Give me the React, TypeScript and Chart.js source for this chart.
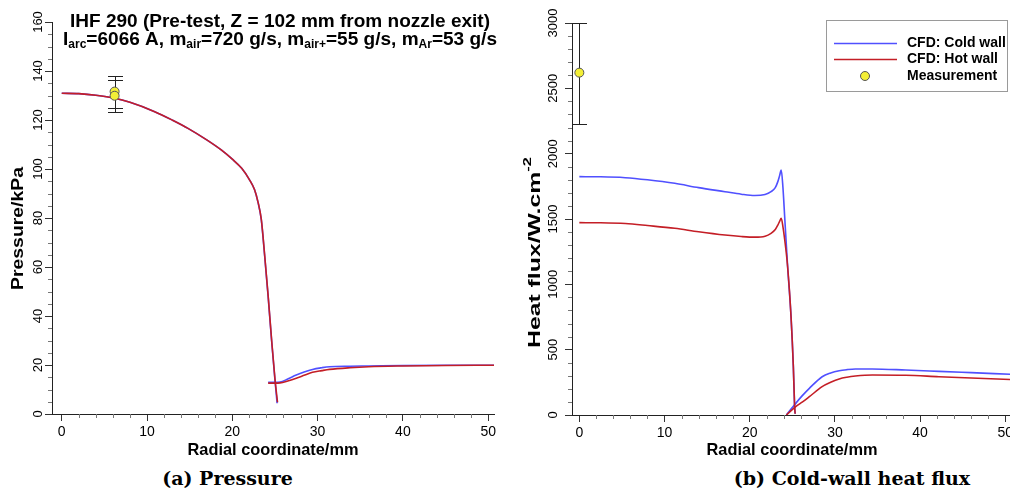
import React, { useEffect, useRef } from "react";
import { Chart, registerables } from "chart.js";
Chart.register(...registerables);

// ---------------- (a) Pressure data ----------------
const pressColdMainX = [0, 2, 4, 6.2, 8, 10.9, 13, 14.8, 17, 18.7, 20, 21.1, 22, 22.6, 23.0, 23.4, 23.8, 24.2, 24.6, 25.0, 25.25];
const pressColdMainY = [130.9, 130.75, 130.1, 128.9, 127.2, 123.4, 119.9, 116.6, 111.9, 107.8, 104.0, 100.3, 95.7, 91.6, 86.6, 79.2, 64.2, 47.9, 30.2, 13.9, 4.4];
const pressHotMainX = [0, 2, 4, 6.2, 8, 10.9, 13, 14.8, 17, 18.7, 20, 21.1, 22, 22.6, 23.0, 23.4, 23.8, 24.2, 24.6, 25.0, 25.3];
const pressHotMainY = [130.9, 130.75, 130.1, 128.9, 127.2, 123.4, 119.9, 116.6, 111.9, 107.8, 104.0, 100.3, 95.7, 91.6, 86.7, 79.4, 64.6, 48.3, 30.6, 14.3, 4.8];
const pressOuterX = [24.2, 25.0, 25.6, 26.5, 27.5, 28.5, 29.4, 30.5, 31.4, 33.8, 36, 40, 45, 50.7];
const pressColdOuterY = [12.9, 12.9, 13.0, 14.3, 15.9, 17.2, 18.2, 18.9, 19.3, 19.5, 19.6, 19.8, 19.9, 19.9];
const pressHotOuterY = [12.6, 12.6, 12.7, 13.5, 14.6, 15.9, 17.0, 17.7, 18.2, 18.9, 19.3, 19.6, 19.8, 19.9];
const pressMeasX = [6.2, 6.2];
const pressMeasY = [131.6, 129.9];
const pressMeasLow = [125.1, 123.4];
const pressMeasHigh = [138.1, 136.3];

// ---------------- (b) Heat flux data ----------------
const fluxMainX = [0, 2.5, 5.4, 8, 11.2, 14, 17.1, 19, 20.6, 21.8, 22.5, 23.0, 23.3, 23.5, 23.7, 23.9, 24.1, 24.45, 24.85, 25.12, 25.27, 25.33];
const fluxColdMainY = [1824, 1823, 1816, 1800, 1773, 1740, 1709, 1690, 1680, 1688, 1709, 1740, 1786, 1830, 1875, 1740, 1520, 1135, 752, 370, 64, 10];
const fluxHotMainY = [1472, 1471, 1465, 1450, 1429, 1402, 1377, 1366, 1361, 1368, 1390, 1420, 1454, 1480, 1505, 1440, 1345, 1135, 752, 370, 64, 10];
const fluxOuterX = [24.3, 25.4, 26.2, 27.0, 28.5, 29.5, 30.5, 31.4, 32.4, 34.4, 38.3, 42.2, 46.0, 50.55];
const fluxColdOuterY = [0, 89, 150, 204, 293, 322, 339, 347, 352, 352, 344, 334, 324, 312];
const fluxHotOuterY = [0, 64, 100, 140, 217, 250, 276, 289, 298, 306, 304, 293, 283, 272];
const fluxMeasX = [0];
const fluxMeasY = [2620];
const fluxMeasLow = [2230];
const fluxMeasHigh = [3000];

// ---------------- ticks & texts ----------------
const xTicks = [0, 10, 20, 30, 40, 50];
const pressTicks = [0, 20, 40, 60, 80, 100, 120, 140, 160];
const fluxTicks = [0, 500, 1000, 1500, 2000, 2500, 3000];
const legendLabels = ["CFD: Cold wall", "CFD: Hot wall", "Measurement"];
const titleLine1 = "IHF 290 (Pre-test, Z = 102 mm from nozzle exit)";
const titleLine2Parts = ["I", "arc", "=6066 A, m", "air", "=720 g/s, m", "air+", "=55 g/s, m", "Ar", "=53 g/s"];
const xTitle = "Radial coordinate/mm";
const pressYTitle = "Pressure/kPa";
const fluxYTitleParts = ["Heat flux/W.cm", "-2"];
const captionA = "(a) Pressure";
const captionB = "(b) Cold-wall heat flux";

const COLD = "#5050ff";
const HOT = "#c41e26";
const MEAS = "#f3ef36";
const FAMILY = '"Liberation Sans", Arial, Helvetica, sans-serif';

const zip = (xs: number[], ys: number[]) => xs.map((x, i) => ({ x, y: ys[i] }));

type Seg = { t: string; size: number; dy?: number; bold?: boolean };

function drawSegs(ctx: any, segs: Seg[], x: number, y: number, rot: number, targetW: number | null, baseline: string) {
  ctx.save();
  let total = 0;
  const widths = segs.map((s) => {
    ctx.font = `${s.bold === false ? "" : "bold "}${s.size}px ${FAMILY}`;
    const w = ctx.measureText(s.t).width;
    total += w;
    return w;
  });
  const sx = targetW ? targetW / total : 1;
  ctx.translate(x, y);
  ctx.rotate(rot);
  ctx.scale(sx, 1);
  ctx.textBaseline = baseline;
  ctx.textAlign = "left";
  ctx.fillStyle = "#000";
  let cx = -total / 2;
  segs.forEach((s, i) => {
    ctx.font = `${s.bold === false ? "" : "bold "}${s.size}px ${FAMILY}`;
    ctx.fillText(s.t, cx, s.dy || 0);
    cx += widths[i];
  });
  ctx.restore();
}

function makeDecor(spec: any) {
  return {
    id: "decor",
    beforeDatasetsDraw(chart: any) {
      const ctx = chart.ctx;
      const xs = chart.scales.x;
      const ys = chart.scales.y;
      const e = spec.err;
      ctx.save();
      ctx.strokeStyle = "#222";
      ctx.lineWidth = 1;
      e.xs.forEach((xv: number, i: number) => {
        const px = Math.round(xs.getPixelForValue(xv)) + 0.5;
        const p1 = Math.round(ys.getPixelForValue(e.lows[i])) + 0.5;
        const p2 = Math.round(ys.getPixelForValue(e.highs[i])) + 0.5;
        ctx.beginPath();
        ctx.moveTo(px, p1);
        ctx.lineTo(px, p2);
        ctx.moveTo(px - 7.5, p1);
        ctx.lineTo(px + 7.5, p1);
        ctx.moveTo(px - 7.5, p2);
        ctx.lineTo(px + 7.5, p2);
        ctx.stroke();
      });
      ctx.restore();
    },
    afterDraw(chart: any) {
      const ctx = chart.ctx;
      const xs = chart.scales.x;
      const ys = chart.scales.y;
      const area = chart.chartArea;
      // minor ticks
      ctx.save();
      ctx.strokeStyle = "#777";
      ctx.lineWidth = 1;
      ctx.beginPath();
      const minorX = (step: number, major: number) => {
        for (let k = Math.ceil(xs.min / step); k * step <= xs.max + 1e-9; k++) {
          const v = k * step;
          const r = v / major;
          if (Math.abs(r - Math.round(r)) < 1e-6) continue;
          const px = Math.round(xs.getPixelForValue(v)) + 0.5;
          ctx.moveTo(px, area.bottom);
          ctx.lineTo(px, area.bottom + 4);
        }
      };
      const minorY = (step: number, major: number) => {
        for (let k = Math.ceil(ys.min / step); k * step <= ys.max + 1e-9; k++) {
          const v = k * step;
          const r = v / major;
          if (Math.abs(r - Math.round(r)) < 1e-6) continue;
          const py = Math.round(ys.getPixelForValue(v)) + 0.5;
          ctx.moveTo(area.left, py);
          ctx.lineTo(area.left - 4, py);
        }
      };
      minorX(2, 10);
      minorY(spec.yMinor, spec.yMajor);
      ctx.stroke();
      ctx.restore();
      // y tick labels (rotated)
      spec.yTicks.forEach((v: number) => {
        const py = ys.getPixelForValue(v);
        drawSegs(ctx, [{ t: String(v), size: 13, bold: false }], spec.yLabelX, py, -Math.PI / 2, null, "middle");
      });
      // axis titles
      drawSegs(ctx, [{ t: xTitle, size: 16.5 }], spec.xTitleX, 450, 0, 171, "middle");
      drawSegs(ctx, spec.yTitleSegs, spec.yTitleX, spec.yTitleY, -Math.PI / 2, spec.yTitleW, "middle");
      if (spec.title) {
        drawSegs(ctx, [{ t: titleLine1, size: 19 }], 280, 27.3, 0, 420, "alphabetic");
        const segs: Seg[] = titleLine2Parts.map((t, i) =>
          i % 2 === 0 ? { t, size: 19 } : { t, size: 12, dy: 3 }
        );
        drawSegs(ctx, segs, 280, 45, 0, 434, "alphabetic");
      }
      if (spec.legend) {
        ctx.save();
        ctx.strokeStyle = "#9a9a9a";
        ctx.lineWidth = 1;
        ctx.strokeRect(321.5, 20.5, 181, 71);
        ctx.lineWidth = 1.6;
        ctx.strokeStyle = COLD;
        ctx.beginPath();
        ctx.moveTo(329, 43.5);
        ctx.lineTo(392, 43.5);
        ctx.stroke();
        ctx.strokeStyle = HOT;
        ctx.beginPath();
        ctx.moveTo(329, 59.5);
        ctx.lineTo(392, 59.5);
        ctx.stroke();
        ctx.fillStyle = MEAS;
        ctx.strokeStyle = "#555";
        ctx.lineWidth = 1;
        ctx.beginPath();
        ctx.arc(360, 76, 4.5, 0, Math.PI * 2);
        ctx.fill();
        ctx.stroke();
        ctx.fillStyle = "#000";
        ctx.font = `bold 14px ${FAMILY}`;
        ctx.textBaseline = "middle";
        ctx.textAlign = "left";
        ctx.fillText(legendLabels[0], 402, 43.5);
        ctx.fillText(legendLabels[1], 402, 59.5);
        ctx.fillText(legendLabels[2], 402, 76);
        ctx.restore();
      }
    },
  };
}

function lineDs(label: string, data: any[], color: string, order: number) {
  return {
    label,
    data,
    borderColor: color,
    backgroundColor: color,
    borderWidth: 1.6,
    pointRadius: 0,
    fill: false,
    cubicInterpolationMode: "monotone",
    order,
  };
}

function measDs(data: any[]) {
  return {
    type: "scatter",
    label: legendLabels[2],
    data,
    pointRadius: 4.5,
    pointBackgroundColor: MEAS,
    pointBorderColor: "#555",
    pointBorderWidth: 1,
    showLine: false,
    order: 0,
  };
}

function axisCommon() {
  return {
    grid: { display: true, drawOnChartArea: false, drawTicks: true, tickLength: 7, tickColor: "#333", tickWidth: 1 },
    border: { display: true, color: "#222", width: 1 },
  };
}

function makeConfig(opts: any): any {
  return {
    type: "line",
    data: { datasets: opts.datasets },
    options: {
      responsive: false,
      maintainAspectRatio: false,
      animation: false,
      events: [],
      layout: { padding: opts.padding, autoPadding: false },
      plugins: { legend: { display: false }, tooltip: { enabled: false }, title: { display: false } },
      scales: {
        x: {
          type: "linear",
          min: opts.xMin,
          max: opts.xMax,
          ...axisCommon(),
          afterBuildTicks: (s: any) => {
            s.ticks = xTicks.map((v) => ({ value: v }));
          },
          afterFit: (s: any) => {
            s.height = opts.xHeight;
            s.paddingLeft = 0;
            s.paddingRight = 0;
          },
          ticks: { display: true, color: "#000", font: { family: FAMILY, size: 14 }, padding: 3, maxRotation: 0, minRotation: 0, autoSkip: false },
        },
        y: {
          type: "linear",
          min: opts.yMin,
          max: opts.yMax,
          ...axisCommon(),
          afterBuildTicks: (s: any) => {
            s.ticks = opts.yTicks.map((v: number) => ({ value: v }));
          },
          afterFit: (s: any) => {
            s.width = opts.yWidth;
            s.paddingTop = 0;
            s.paddingBottom = 0;
          },
          ticks: { display: false },
        },
      },
    },
    plugins: [makeDecor(opts.decor)],
  };
}

function leftConfig() {
  return makeConfig({
    datasets: [
      measDs(zip(pressMeasX, pressMeasY)),
      lineDs(legendLabels[1], zip(pressHotMainX, pressHotMainY), HOT, 1),
      lineDs(legendLabels[1], zip(pressOuterX, pressHotOuterY), HOT, 2),
      lineDs(legendLabels[0], zip(pressColdMainX, pressColdMainY), COLD, 3),
      lineDs(legendLabels[0], zip(pressOuterX, pressColdOuterY), COLD, 4),
    ],
    padding: { left: 0, top: 22, right: 11, bottom: 0 },
    xMin: -1.14,
    xMax: 50.68,
    yMin: 0,
    yMax: 160,
    yTicks: pressTicks,
    xHeight: 46,
    yWidth: 52,
    decor: {
      err: { xs: pressMeasX, lows: pressMeasLow, highs: pressMeasHigh },
      yMinor: 5,
      yMajor: 20,
      yTicks: pressTicks,
      yLabelX: 38,
      xTitleX: 273,
      yTitleSegs: [{ t: pressYTitle, size: 16.5 }],
      yTitleX: 18.5,
      yTitleY: 228.5,
      yTitleW: 123,
      title: true,
      legend: false,
    },
  });
}

function rightConfig() {
  return makeConfig({
    datasets: [
      measDs(zip(fluxMeasX, fluxMeasY)),
      lineDs(legendLabels[1], zip(fluxMainX, fluxHotMainY), HOT, 1),
      lineDs(legendLabels[1], zip(fluxOuterX, fluxHotOuterY), HOT, 2),
      lineDs(legendLabels[0], zip(fluxMainX, fluxColdMainY), COLD, 3),
      lineDs(legendLabels[0], zip(fluxOuterX, fluxColdOuterY), COLD, 4),
    ],
    padding: { left: 0, top: 23, right: 0, bottom: 0 },
    xMin: -0.86,
    xMax: 50.55,
    yMin: 0,
    yMax: 3000,
    yTicks: fluxTicks,
    xHeight: 45,
    yWidth: 67,
    decor: {
      err: { xs: fluxMeasX, lows: fluxMeasLow, highs: fluxMeasHigh },
      yMinor: 100,
      yMajor: 500,
      yTicks: fluxTicks,
      yLabelX: 48,
      xTitleX: 287,
      yTitleSegs: [
        { t: fluxYTitleParts[0], size: 16.5 },
        { t: fluxYTitleParts[1], size: 11, dy: -7 },
      ],
      yTitleX: 30,
      yTitleY: 252.5,
      yTitleW: 191,
      title: false,
      legend: true,
    },
  });
}

const captionStyle = (cx: number): React.CSSProperties => ({
  position: "absolute",
  left: cx - 200,
  width: 400,
  top: 465,
  textAlign: "center",
  font: 'bold 19px "DejaVu Serif", serif',
  lineHeight: "26px",
  color: "#000",
});

export default function App() {
  const leftRef = useRef<HTMLCanvasElement>(null);
  const rightRef = useRef<HTMLCanvasElement>(null);
  useEffect(() => {
    const c1 = new Chart(leftRef.current as HTMLCanvasElement, leftConfig());
    const c2 = new Chart(rightRef.current as HTMLCanvasElement, rightConfig());
    return () => {
      c1.destroy();
      c2.destroy();
    };
  }, []);
  return (
    <div style={{ position: "fixed", left: 0, top: 0, width: 1010, height: 491, background: "#fff", overflow: "hidden" }}>
      <canvas ref={leftRef} width={505} height={460} style={{ position: "absolute", left: 0, top: 0, width: 505, height: 460 }} />
      <canvas ref={rightRef} width={505} height={460} style={{ position: "absolute", left: 505, top: 0, width: 505, height: 460 }} />
      <div style={captionStyle(227.5)}>{captionA}</div>
      <div style={captionStyle(852)}>{captionB}</div>
    </div>
  );
}
